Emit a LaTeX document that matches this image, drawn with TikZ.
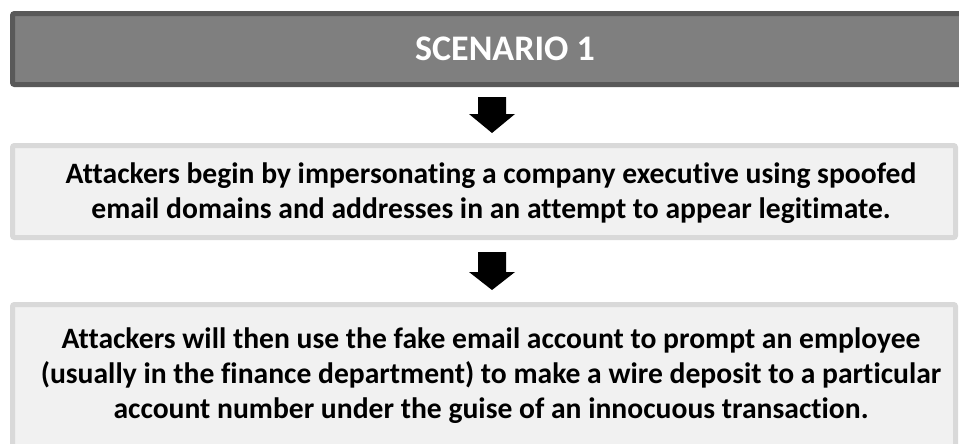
\documentclass[tikz,border=0pt]{standalone}
\usepackage{fontspec}
\setmainfont{Carlito}[Ligatures={NoCommon}]
\definecolor{titlefill}{HTML}{7F7F7F}
\definecolor{titleedge}{HTML}{595959}
\definecolor{stagefill}{HTML}{F1F1F1}
\definecolor{stageedge}{HTML}{D9D9D9}
\tikzset{
  panel/.style={rectangle, line width=3.75pt, rounded corners=1.5pt, inner sep=0pt, anchor=north west},
  titlebox/.style={panel, draw=titleedge, fill=titlefill},
  stagebox/.style={panel, draw=stageedge, fill=stagefill},
  titletext/.style={font=\bfseries\fontsize{27}{32}\selectfont, text=white, inner sep=0pt},
  stagetext/.style={font=\bfseries\fontsize{22.2}{26.25}\selectfont, align=center, text=black, inner sep=0pt},
  blockarrow/.style={fill=black},
  pics/downarrow/.style n args={2}{code={
    \fill[blockarrow] (-14,0) -- (14,0) -- (14,#1) -- (23,#1) -- (0,#2) -- (-23,#1) -- (-14,#1) -- cycle;
  }}
}
\begin{document}
\begin{tikzpicture}[x=0.75pt,y=-0.75pt]
  \useasboundingbox (0,0) rectangle (959,443);
  \clip (0,0) rectangle (959,443);
  \fill[white] (0,0) rectangle (959,443);

  % header and the two stages
  \node[titlebox, minimum width=742.1pt, minimum height=53.25pt] (head) at (10,11) {};
  \node[stagebox, minimum width=707.25pt, minimum height=69pt] (stage1) at (10,143) {};
  \node[stagebox, minimum width=707.25pt, minimum height=106.5pt] (stage2) at (10,302) {};

  \node[titletext] (headtext) at (505,48.5) {SCENARIO 1};
  \node[stagetext] (stage1text) at (491,193.5) {Attackers begin by impersonating a company executive using spoofed\\email domains and addresses in an attempt to appear legitimate.};
  \node[stagetext] (stage2text) at (491,375.7) {Attackers will then use the fake email account to prompt an employee\\(usually in the finance department) to make a wire deposit to a particular\\account number under the guise of an innocuous transaction.};

  % block arrows between the panels
  \pic at (492,97) {downarrow={17}{36}};
  \pic at (492,252) {downarrow={20}{38}};
\end{tikzpicture}
\end{document}
